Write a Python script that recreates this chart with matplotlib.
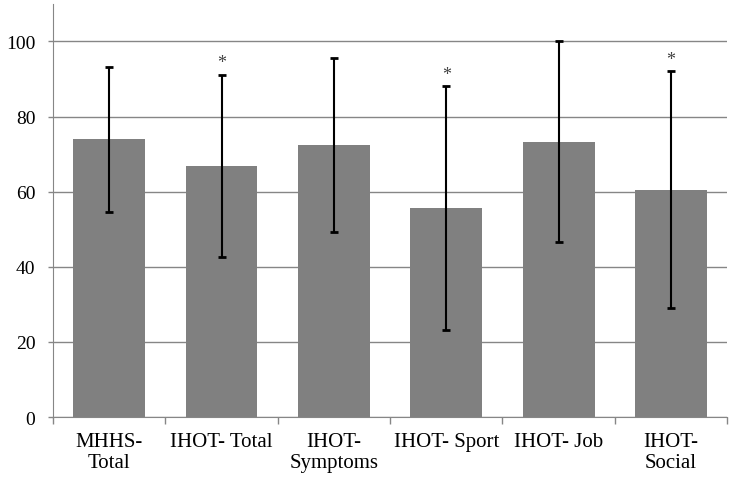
import matplotlib.pyplot as plt
import numpy as np

# --- Data ---
categories = ["MHHS-\nTotal", "IHOT- Total", "IHOT-\nSymptoms", "IHOT- Sport", "IHOT- Job", "IHOT-\nSocial"]
means = [74.0, 66.8, 72.5, 55.6, 73.3, 60.5]
sds = [19.3, 24.2, 23.2, 32.4, 26.7, 31.5]
significant = [False, True, False, True, False, True]
y_ticks = [0, 20, 40, 60, 80, 100]

plt.rcParams['font.family'] = ['Liberation Serif', 'DejaVu Serif']

fig = plt.figure(figsize=(7.32, 4.85), dpi=100)
ax = fig.add_axes([0.0724, 0.138, 0.921, 0.852])

x = np.arange(len(categories))
ax.bar(x, means, width=0.64, color='#808080', zorder=2)
ax.errorbar(x, means, yerr=sds, fmt='none', ecolor='black', elinewidth=1.5,
            capsize=3, capthick=2, zorder=3)

# significance markers above the error bars
for xi, m, s, sig in zip(x, means, sds, significant):
    if sig:
        ax.text(xi, m + s + 1.0, "*", ha='center', va='bottom', fontsize=13, color='#404040')

ax.set_ylim(0, 110)
ax.set_xlim(-0.5, len(categories) - 0.5)
ax.set_yticks(y_ticks)
ax.yaxis.grid(True, color='#868686', linewidth=1, zorder=0)
ax.tick_params(axis='y', length=3.6, width=1, color='#868686', labelsize=14, pad=9)

# category labels centered, tick marks at category boundaries
ax.set_xticks(x)
ax.set_xticklabels(categories, fontsize=15, linespacing=1.1, va='top')
ax.tick_params(axis='x', which='major', length=0, pad=11)
ax.set_xticks(np.arange(-0.5, len(categories)), minor=True)
ax.tick_params(axis='x', which='minor', length=5, color='#868686', width=1)

for side in ['top', 'right']:
    ax.spines[side].set_visible(False)
ax.spines['left'].set_color('#868686')
ax.spines['bottom'].set_color('#868686')

fig.savefig('out.png', dpi=100)
